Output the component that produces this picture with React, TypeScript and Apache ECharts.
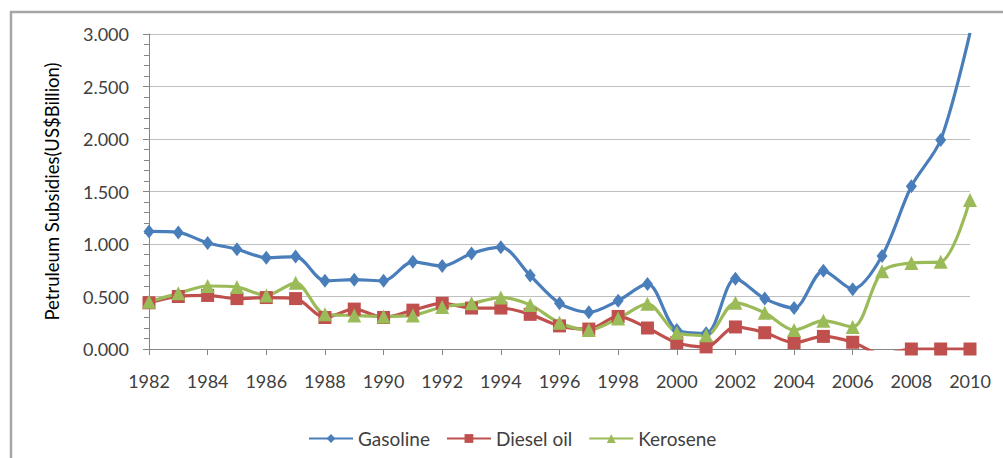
import React, { useEffect, useRef } from "react";
import * as echarts from "echarts";

const years = ["1982","1983","1984","1985","1986","1987","1988","1989","1990","1991","1992","1993","1994","1995","1996","1997","1998","1999","2000","2001","2002","2003","2004","2005","2006","2007","2008","2009","2010"];
const gasoline = [1.12,1.11,1.01,0.95,0.87,0.88,0.65,0.66,0.65,0.83,0.79,0.91,0.97,0.70,0.435,0.35,0.46,0.62,0.18,0.15,0.67,0.48,0.39,0.745,0.57,0.885,1.55,1.99,3.01];
const diesel = [0.44,0.50,0.51,0.48,0.49,0.48,0.30,0.38,0.30,0.37,0.435,0.39,0.39,0.33,0.22,0.19,0.31,0.20,0.06,0.02,0.21,0.155,0.06,0.12,0.064,-0.05,0.0,0.0,0.0];
const kerosene = [0.45,0.53,0.60,0.59,0.51,0.63,0.33,0.32,0.31,0.32,0.40,0.435,0.49,0.42,0.25,0.18,0.29,0.43,0.155,0.13,0.44,0.345,0.18,0.27,0.21,0.74,0.82,0.83,1.42];
const seriesNames = ["Gasoline", "Diesel oil", "Kerosene"];
const colors = ["#4a7ebb", "#c0504d", "#9bbb59"];

const FONT = "Lato";

export default function App() {
  const ref = useRef<HTMLDivElement>(null);
  useEffect(() => {
    if (!ref.current) return;
    const chart = echarts.init(ref.current, null, { renderer: "svg" });
    const mk = (name: string, data: number[], color: string, symbol: string, size: any) => ({
      name,
      type: "line",
      data,
      smooth: 0.3,
      clip: true,
      symbol,
      symbolSize: size,
      lineStyle: { width: 3.2, color },
      itemStyle: { color },
    });
    chart.setOption({
      animation: false,
      backgroundColor: "#ffffff",
      textStyle: { fontFamily: FONT },
      graphic: [
        {
          type: "rect",
          shape: { x: 11, y: 12, width: 1010, height: 470 },
          style: { fill: "none", stroke: "#a6a6a6", lineWidth: 2.5 },
          silent: true,
        },
      ],
      legend: {
        top: 424,
        left: 303,
        itemWidth: 44,
        itemHeight: 11,
        itemGap: 16,
        textStyle: { fontSize: 19, color: "#404040", fontFamily: FONT },
        data: seriesNames,
      },
      grid: { left: 149, right: 33, top: 34, bottom: 109 },
      xAxis: {
        type: "category",
        data: years,
        boundaryGap: false,
        axisLine: { lineStyle: { color: "#868686", width: 1 } },
        axisTick: { show: true, interval: 1, length: 6, lineStyle: { color: "#868686" } },
        axisLabel: { interval: 1, fontSize: 18, color: "#404040", margin: 23, fontFamily: FONT },
      },
      yAxis: {
        type: "value",
        min: 0,
        max: 3,
        interval: 0.5,
        name: "Petruleum Subsidies(US$Billion)",
        nameLocation: "middle",
        nameGap: 88,
        nameTextStyle: { fontSize: 18.5, color: "#000000", fontFamily: FONT },
        axisLine: { show: true, lineStyle: { color: "#868686", width: 1 } },
        axisTick: { show: true, length: 6, lineStyle: { color: "#868686" } },
        minorTick: { show: true, splitNumber: 5, length: 5, lineStyle: { color: "#868686" } },
        splitLine: { lineStyle: { color: "#c0c0c0", width: 1 } },
        axisLabel: {
          fontSize: 18,
          color: "#404040",
          margin: 20,
          fontFamily: FONT,
          formatter: (v: number) => v.toFixed(3),
        },
      },
      series: [
        mk(seriesNames[0], gasoline, colors[0], "diamond", [11, 14]),
        mk(seriesNames[1], diesel, colors[1], "rect", 13),
        mk(seriesNames[2], kerosene, colors[2], "triangle", 14),
      ],
    });
    return () => chart.dispose();
  }, []);
  return (
    <div
      ref={ref}
      style={{ position: "fixed", left: 0, top: 0, width: 1003, height: 458 }}
    />
  );
}
